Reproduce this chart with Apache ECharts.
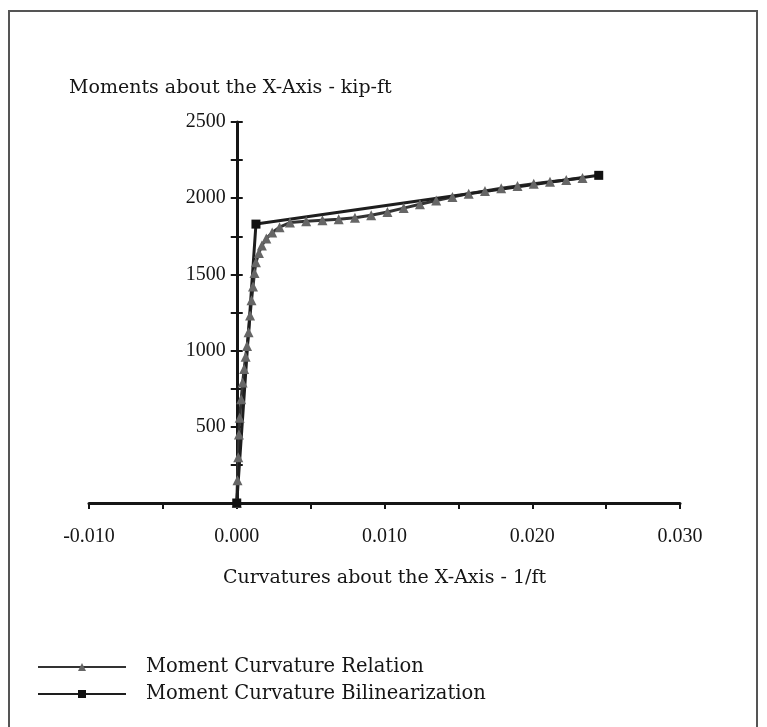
<!DOCTYPE html>
<html>
<head>
    <meta charset="utf-8">
    <title>Moment Curvature</title>
    <script src="https://cdn.jsdelivr.net/npm/echarts@6/dist/echarts.min.js"></script>
    <style>
        html, body { margin: 0; padding: 0; background: #fff; }
        #chart-container { width: 767px; height: 727px; }
    </style>
</head>
<body>
<div id="chart-container"></div>
<script>
    const chart = echarts.init(document.getElementById('chart-container'));

    // curvature (1/ft) and moment (kip-ft)
    const relationCurv = [0, 0.00005, 0.0001, 0.00015, 0.0002, 0.0003, 0.0004, 0.0005, 0.0006, 0.0007,
        0.0008, 0.0009, 0.001, 0.0011, 0.0012, 0.0013, 0.0015, 0.0017, 0.002, 0.0024, 0.0029,
        0.0036, 0.0047, 0.0058, 0.0069, 0.008, 0.0091, 0.0102, 0.0113, 0.0124, 0.0135, 0.0146,
        0.0157, 0.0168, 0.0179, 0.019, 0.0201, 0.0212, 0.0223, 0.0234];
    const relationMoment = [0, 150, 300, 450, 560, 680, 790, 880, 960, 1030,
        1120, 1230, 1330, 1420, 1510, 1580, 1640, 1690, 1735, 1775, 1810,
        1840, 1848, 1855, 1862, 1872, 1888, 1910, 1935, 1960, 1985, 2008,
        2030, 2048, 2065, 2080, 2095, 2108, 2120, 2132];
    const bilinCurv = [0, 0.0013, 0.0245];
    const bilinMoment = [0, 1830, 2150];

    const font = 'DejaVu Serif';
    const numFont = 'Liberation Serif';
    const ink = '#151515';

    const xLabel = v => {
        const k = Math.round(v * 1000);
        return k % 10 === 0 ? (k / 1000).toFixed(3) : '';
    };
    const yLabel = v => (v > 0 && v % 500 === 0) ? String(v) : '';

    const gridLeft = 89, gridRight = 87;
    // y axis sits at curvature 0, a quarter of the way across
    const yShift = -(767 - gridLeft - gridRight) * 0.25;

    const baseX = {
        type: 'value', min: -0.01, max: 0.03, interval: 0.005,
        splitLine: { show: false }
    };
    const baseY = {
        type: 'value', min: 0, max: 2500, interval: 250,
        position: 'left', offset: yShift,
        splitLine: { show: false }
    };

    const option = {
        backgroundColor: '#fff',
        animation: false,
        title: {
            text: 'Moments about the X-Axis - kip-ft',
            left: 64, top: 74,
            textStyle: { fontFamily: font, fontSize: 19, fontWeight: 'normal', color: ink }
        },
        grid: { left: gridLeft, right: gridRight, top: 122, bottom: 224 },
        xAxis: [
            Object.assign({}, baseX, {
                name: 'Curvatures about the X-Axis - 1/ft',
                nameLocation: 'middle', nameGap: 66,
                nameTextStyle: { fontFamily: font, fontSize: 19, color: ink },
                axisLine: { lineStyle: { color: ink, width: 3 } },
                axisTick: { length: 6, lineStyle: { color: ink, width: 2 } },
                axisLabel: { formatter: xLabel, margin: 24, fontFamily: numFont, fontSize: 20, color: ink }
            }),
            Object.assign({}, baseX, {
                axisLine: { show: false },
                axisTick: { inside: true, length: 6, lineStyle: { color: ink, width: 2 } },
                axisLabel: { show: false }
            })
        ],
        yAxis: [
            Object.assign({}, baseY, {
                axisLine: { onZero: false, lineStyle: { color: ink, width: 3 } },
                axisTick: { length: 6, lineStyle: { color: ink, width: 2 } },
                axisLabel: { formatter: yLabel, margin: 11, fontFamily: numFont, fontSize: 20, color: ink }
            }),
            Object.assign({}, baseY, {
                axisLine: { show: false, onZero: false },
                axisTick: { inside: true, length: 6, lineStyle: { color: ink, width: 2 } },
                axisLabel: { show: false }
            })
        ],
        legend: {
            orient: 'vertical',
            left: 32, top: 652,
            itemWidth: 88, itemHeight: 10, itemGap: 7,
            textStyle: { fontFamily: font, fontSize: 19.5, color: ink, padding: [0, 0, 0, 15] },
            data: ['Moment Curvature Relation', 'Moment Curvature Bilinearization']
        },
        graphic: [{
            type: 'rect',
            shape: { x: 9, y: 11, width: 748, height: 740 },
            style: { fill: 'none', stroke: '#555', lineWidth: 2 },
            silent: true
        }],
        series: [
            {
                name: 'Moment Curvature Relation',
                type: 'line',
                data: relationCurv.map((c, i) => [c, relationMoment[i]]),
                symbol: 'triangle', symbolSize: 10,
                itemStyle: { color: '#666' },
                lineStyle: { color: '#333', width: 3 }
            },
            {
                name: 'Moment Curvature Bilinearization',
                type: 'line',
                data: bilinCurv.map((c, i) => [c, bilinMoment[i]]),
                symbol: 'rect', symbolSize: 9,
                itemStyle: { color: '#111' },
                lineStyle: { color: '#1e1e1e', width: 3 }
            }
        ]
    };

    chart.setOption(option);
</script>
</body>
</html>
